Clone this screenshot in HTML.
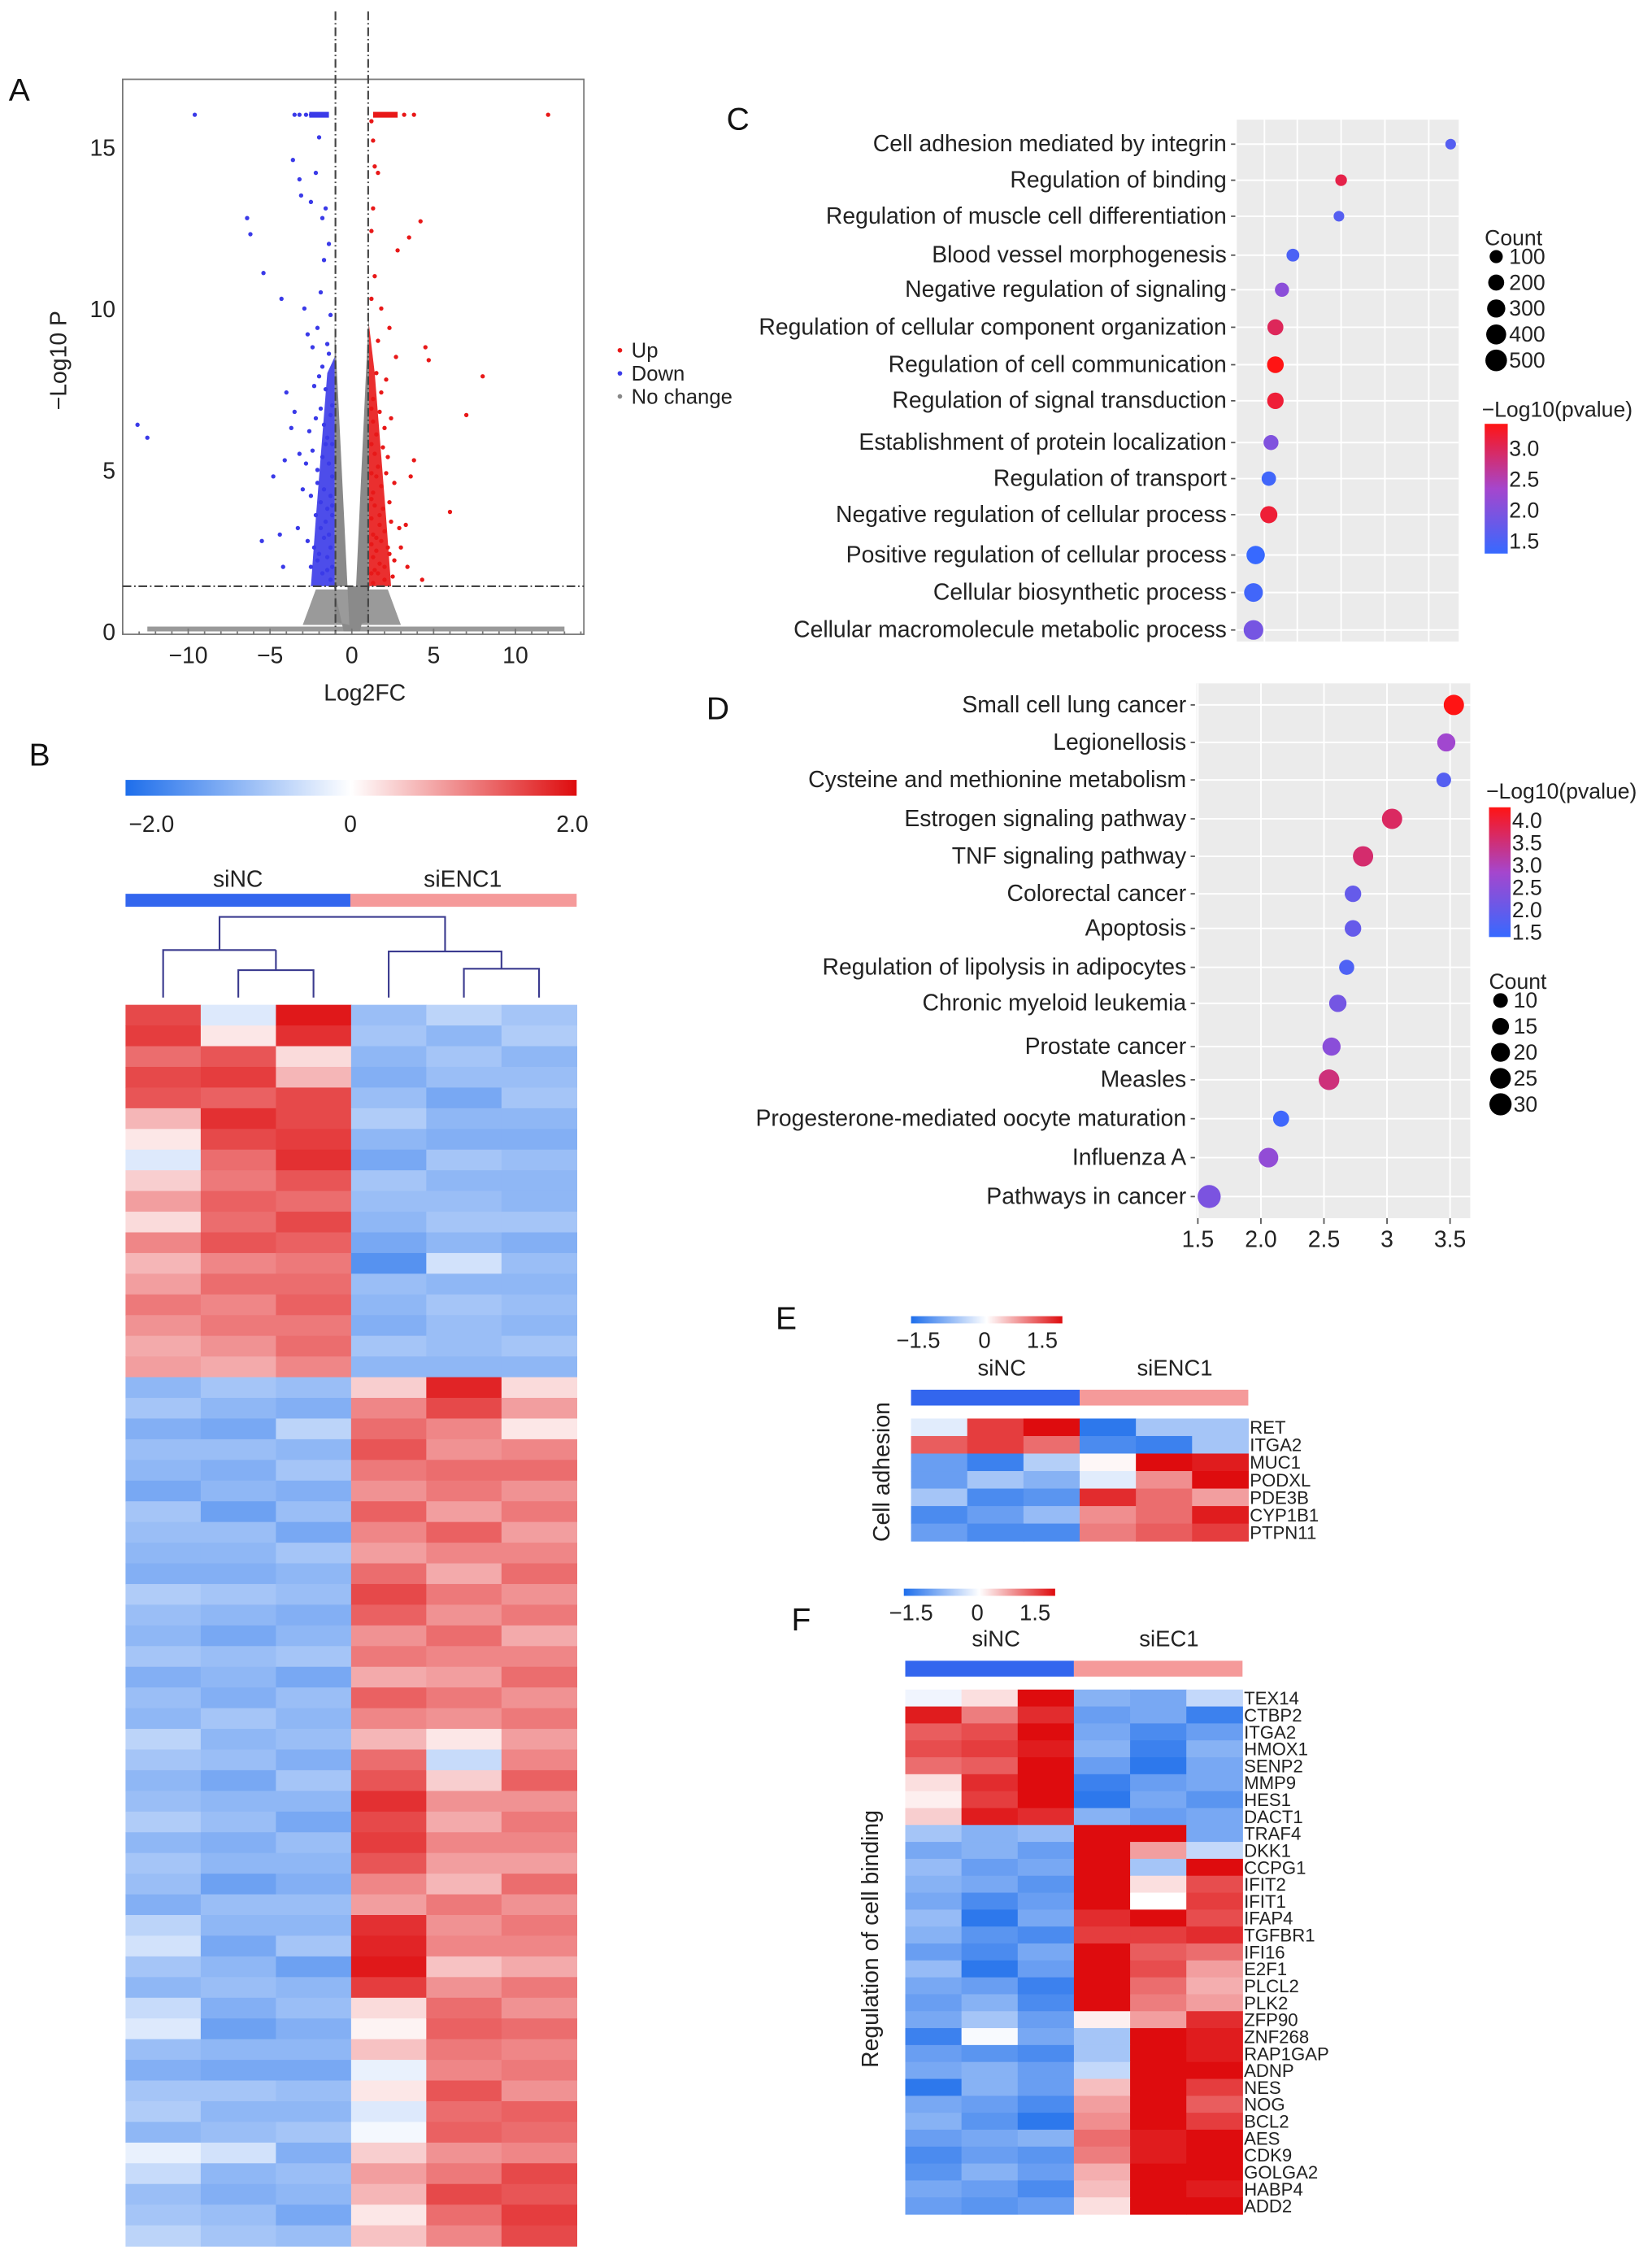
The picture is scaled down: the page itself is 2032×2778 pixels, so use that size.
<!DOCTYPE html>
<html><head><meta charset="utf-8"><style>
html,body{margin:0;padding:0;background:#fff;}
svg{display:block;font-family:"Liberation Sans",Arial,sans-serif;}
</style></head><body>
<svg id="fig" width="2032" height="2778" viewBox="0 0 1146 1567" xmlns="http://www.w3.org/2000/svg">
<rect width="1146" height="1567" fill="#fff"/>
<g font-size="22" fill="#111">
<text x="6" y="70">A</text>
<text x="20" y="531">B</text>
<text x="504" y="90">C</text>
<text x="490" y="499">D</text>
<text x="538" y="922">E</text>
<text x="549" y="1131">F</text>
</g>
<g id="A"></g>
<g id="B"></g>
<g id="C"></g>
<g id="D"></g>
<g id="E"></g>
<g id="F"></g>
</svg>
<script>
// ---------- Panel A data ----------
const downLfc=[-9.6,-3.5,-3.2,-2.8,-2.5,-2.2,-2.0,-6.4,-6.2,-5.4,-4.3,-3.6,-3.2,-3.1,-2.5,-2.2,-2.0,-1.8,-1.6,-1.4,-13.1,-12.5,-4.1,-4.8,-3.7,-4.0,-3.5,-3.2,-5.5,-4.2,-4.4,-2.9,-2.7,-2.4,-2.1,-1.9,-1.7,-1.5,-1.3,-2.3,-2.0,-1.8,-1.6,-1.4,-1.2,-2.6,-2.2,-1.9,-1.7,-1.5,-1.3,-1.2,-2.8,-2.4,-2.1,-1.8,-1.6,-1.4,-1.2,-3.0,-2.5,-2.1,-1.9,-1.7,-1.5,-1.3,-1.2,-2.2,-1.9,-1.6,-1.4,-1.2,-3.3,-2.7,-2.3,-2.0,-1.7,-1.5,-1.3,-1.2,-2.5,-2.1,-1.8,-1.5,-1.3];
const downP=[16,16,16,16,16,16,16,12.8,12.3,11.1,10.3,14.6,14.0,13.5,13.3,14.2,15.3,12.8,13.1,12.0,6.4,6.0,5.3,4.8,6.3,7.4,6.8,5.5,2.8,2.0,3.0,10.0,9.2,8.8,9.4,10.5,11.5,8.9,9.8,7.6,7.9,8.2,7.5,8.6,7.0,6.2,6.6,6.9,6.4,6.0,6.7,5.8,5.2,5.6,5.0,5.4,5.8,5.2,4.8,4.4,4.2,4.6,4.0,4.4,3.8,4.2,3.9,3.6,3.2,3.4,3.0,3.6,3.2,2.8,2.6,2.4,2.9,2.3,2.6,2.0,2.0,2.2,1.8,1.9,1.6];
const upLfc=[1.5,2.0,2.5,3.2,3.8,12.0,1.2,1.3,4.2,3.5,2.8,1.4,1.6,1.3,1.2,4.5,4.7,8.0,7.0,6.0,3.8,3.6,3.3,1.8,2.3,2.7,1.6,1.4,1.2,2.1,1.8,1.5,1.3,1.2,2.4,2.0,1.7,1.5,1.3,1.2,2.2,1.9,1.6,1.4,1.2,2.6,2.1,1.8,1.5,1.3,1.2,2.3,1.9,1.7,1.4,1.2,2.9,2.4,2.0,1.7,1.5,1.3,1.2,2.2,1.8,1.5,1.3,3.0,2.6,2.3,2.0,1.7,1.4,1.2,2.5,2.0,1.6,1.3,4.3,3.4];
const upP=[16,16,16,16,16,16,15.8,15.2,12.7,12.2,11.8,14.4,14.2,13.1,12.4,8.8,8.4,7.9,6.7,3.7,5.3,4.8,3.3,10.0,9.4,8.5,9.0,11.0,10.3,7.8,7.4,8.0,7.2,6.9,6.6,6.3,6.8,6.1,6.5,5.8,5.4,5.7,5.1,5.5,4.9,4.6,4.9,4.5,4.8,4.3,4.1,4.0,3.8,3.6,3.9,3.5,3.2,3.4,3.1,3.3,2.9,3.0,2.7,2.6,2.8,2.5,2.3,2.6,2.2,2.4,2.0,2.1,1.9,1.8,1.7,1.6,1.8,1.5,1.6,2.0];
const aXTicks=[-10,-5,0,5,10];
const aYTicks=[0,5,10,15];
// ---------- Panel B data (6 columns x 60 rows) ----------
const bCol1=[1.5,1.6,1.2,1.5,1.4,0.6,0.2,-0.3,0.4,0.8,0.3,1.0,0.6,0.8,1.1,0.9,0.7,0.8,-1.0,-0.8,-1.1,-0.9,-1.0,-1.2,-0.8,-0.9,-1.0,-1.1,-0.7,-0.9,-1.0,-0.8,-1.1,-0.9,-1.0,-0.6,-0.8,-1.0,-0.9,-0.7,-1.0,-0.8,-0.9,-1.1,-0.6,-0.4,-0.8,-1.0,-0.5,-0.3,-0.9,-1.1,-0.8,-0.7,-1.0,-0.2,-0.5,-0.9,-0.8,-0.6];
const bCol2=[-0.3,0.2,1.4,1.6,1.3,1.7,1.5,1.2,1.1,1.3,1.2,1.4,1.0,1.2,1.0,1.1,0.9,0.7,-0.8,-1.0,-1.2,-0.9,-1.1,-1.0,-1.3,-0.9,-1.0,-1.1,-0.8,-1.0,-1.2,-0.9,-1.0,-1.1,-0.8,-1.0,-0.9,-1.2,-1.0,-0.9,-1.1,-1.0,-1.3,-0.9,-1.0,-1.2,-1.0,-0.9,-1.1,-1.3,-1.0,-1.2,-0.8,-1.0,-0.9,-0.4,-1.0,-1.1,-0.9,-0.8];
const bCol3=[1.9,1.7,0.3,0.6,1.5,1.5,1.6,1.7,1.4,1.2,1.5,1.3,1.1,1.2,1.3,1.1,1.2,1.0,-0.9,-1.1,-0.6,-1.0,-0.8,-1.1,-0.9,-1.2,-0.8,-1.0,-0.9,-1.1,-1.0,-0.8,-1.2,-0.9,-1.0,-0.9,-1.1,-0.8,-1.0,-1.2,-0.9,-1.0,-1.1,-0.9,-1.0,-0.8,-1.3,-1.0,-0.9,-1.1,-1.0,-1.2,-0.9,-1.0,-0.8,-1.1,-0.9,-1.0,-1.2,-0.9];
const bCol4=[-0.9,-0.8,-1.0,-1.1,-0.9,-0.7,-1.0,-1.2,-0.8,-0.9,-1.0,-1.2,-1.5,-0.9,-1.0,-1.1,-0.8,-1.0,0.4,1.0,1.2,1.4,1.1,0.9,1.3,1.0,0.8,1.2,1.5,1.3,0.9,1.1,0.7,1.3,1.0,0.6,1.2,1.4,1.7,1.5,1.6,1.4,1.0,0.8,1.7,1.8,1.9,1.6,0.3,0.1,0.5,-0.2,0.2,-0.3,-0.1,0.4,0.8,0.6,0.2,0.5];
const bCol5=[-0.6,-1.0,-0.8,-0.9,-1.2,-1.0,-1.1,-0.8,-1.0,-0.9,-0.8,-1.0,-0.4,-1.0,-0.8,-0.9,-0.9,-1.0,1.8,1.5,1.0,0.9,1.2,1.1,0.8,1.3,1.0,0.7,1.1,0.9,1.2,1.0,0.8,1.1,0.9,0.2,-0.5,0.4,0.9,0.7,1.0,0.8,0.6,1.1,0.9,1.0,0.5,0.9,1.2,1.3,1.1,1.0,1.4,1.2,1.3,0.9,1.1,1.5,1.2,1.0];
const bCol6=[-0.8,-0.7,-1.0,-0.9,-0.8,-1.0,-1.1,-0.9,-1.0,-1.0,-0.8,-1.1,-0.9,-1.0,-0.9,-1.0,-0.8,-1.0,0.3,0.8,0.2,1.0,1.2,0.9,1.1,0.8,1.0,1.2,0.9,1.1,0.7,1.0,1.2,0.9,1.1,0.8,1.0,1.3,0.9,1.1,1.0,0.8,1.2,0.9,1.1,1.0,0.7,1.1,0.9,1.2,1.0,1.1,0.9,1.3,1.2,1.0,1.5,1.4,1.6,1.5];
// ---------- Panel C data ----------
const cTerms=["Cell adhesion mediated by integrin","Regulation of binding","Regulation of muscle cell differentiation","Blood vessel morphogenesis","Negative regulation of signaling","Regulation of cellular component organization","Regulation of cell communication","Regulation of signal transduction","Establishment of protein localization","Regulation of transport","Negative regulation of cellular process","Positive regulation of cellular process","Cellular biosynthetic process","Cellular macromolecule metabolic process"];
const cX=[9.5,4.5,4.4,2.3,1.8,1.5,1.5,1.5,1.3,1.2,1.2,0.6,0.5,0.5];
const cCount=[40,60,40,90,130,200,230,220,160,140,250,310,330,380];
const cLogP=[1.6,3.1,1.6,1.5,2.1,3.0,3.4,3.2,2.0,1.4,3.2,1.3,1.4,1.9];
const cSizeTicks=[100,200,300,400,500];
const cColorTicks=[1.5,2.0,2.5,3.0];
// ---------- Panel D data ----------
const dTerms=["Small cell lung cancer","Legionellosis","Cysteine and methionine metabolism","Estrogen signaling pathway","TNF signaling pathway","Colorectal cancer","Apoptosis","Regulation of lipolysis in adipocytes","Chronic myeloid leukemia","Prostate cancer","Measles","Progesterone-mediated oocyte maturation","Influenza A","Pathways in cancer"];
const dX=[3.53,3.47,3.45,3.04,2.81,2.73,2.73,2.68,2.61,2.56,2.54,2.16,2.06,1.59];
const dCount=[24,18,10,24,24,14,14,11,16,18,25,13,22,33];
const dLogP=[4.3,2.8,1.8,3.7,3.6,2.0,2.0,1.7,2.2,2.5,3.5,1.5,2.6,2.3];
const dXTicks=[1.5,2.0,2.5,3,3.5];
const dXTickLabels=["1.5","2.0","2.5","3","3.5"];
const dSizeTicks=[10,15,20,25,30];
const dColorTicks=[1.5,2.0,2.5,3.0,3.5,4.0];
// ---------- Panel E data ----------
const eGenes=["RET","ITGA2","MUC1","PODXL","PDE3B","CYP1B1","PTPN11"];
const eVals=[[-0.2,1.2,1.6,-1.4,-0.6,-0.6],[1.0,1.2,0.9,-1.2,-1.3,-0.6],[-1.0,-1.3,-0.5,0.05,1.5,1.4],[-1.0,-0.6,-0.8,-0.2,0.7,1.7],[-0.6,-1.2,-1.1,1.3,0.9,0.6],[-1.2,-1.0,-0.7,0.7,0.9,1.4],[-1.0,-1.2,-1.2,0.8,1.0,1.2]];
// ---------- Panel F data ----------
const fGenes=["TEX14","CTBP2","ITGA2","HMOX1","SENP2","MMP9","HES1","DACT1","TRAF4","DKK1","CCPG1","IFIT2","IFIT1","IFAP4","TGFBR1","IFI16","E2F1","PLCL2","PLK2","ZFP90","ZNF268","RAP1GAP","ADNP","NES","NOG","BCL2","AES","CDK9","GOLGA2","HABP4","ADD2"];
const fVals=[[-0.1,0.2,1.6,-0.8,-0.9,-0.4],[1.4,0.8,1.3,-1.0,-0.9,-1.3],[1.0,1.1,1.5,-0.9,-1.2,-1.0],[1.1,1.2,1.4,-0.8,-1.3,-0.8],[0.9,1.0,1.5,-1.0,-1.4,-0.9],[0.2,1.3,1.6,-1.3,-1.0,-0.9],[0.1,1.2,1.5,-1.4,-0.9,-1.1],[0.3,1.4,1.3,-0.8,-1.0,-0.9],[-0.6,-0.8,-0.7,1.6,1.7,-0.9],[-0.9,-0.8,-1.0,1.7,0.6,-0.4],[-0.7,-1.0,-0.9,1.6,-0.6,1.6],[-0.8,-0.9,-1.1,1.7,0.2,1.1],[-0.9,-1.2,-1.0,1.7,0.0,1.2],[-0.7,-1.4,-0.9,1.3,1.5,1.1],[-0.8,-1.1,-1.2,1.2,1.2,1.3],[-1.0,-1.2,-0.9,1.5,1.0,0.9],[-0.7,-1.4,-1.0,1.5,1.1,0.6],[-0.9,-1.0,-1.3,1.7,0.9,0.5],[-1.0,-0.8,-1.2,1.6,0.8,0.6],[-0.9,-0.6,-1.0,0.1,0.6,1.3],[-1.3,-0.05,-0.9,-0.6,1.6,1.4],[-1.0,-1.1,-1.2,-0.6,1.7,1.4],[-0.9,-0.8,-1.0,-0.4,1.6,1.5],[-1.4,-0.8,-1.0,0.4,1.5,1.2],[-0.9,-1.0,-1.2,0.6,1.7,1.0],[-0.8,-1.1,-1.4,0.7,1.6,1.2],[-1.0,-0.9,-0.8,0.9,1.4,1.5],[-1.2,-1.0,-1.1,0.8,1.4,1.6],[-1.1,-0.8,-1.0,0.5,1.5,1.6],[-0.9,-1.0,-1.2,0.4,1.6,1.4],[-1.0,-1.1,-1.0,0.2,1.5,1.6]];

// ---------- helpers ----------
const NS="http://www.w3.org/2000/svg";
function mk(parent,tag,attrs,text){const e=document.createElementNS(NS,tag);for(const k in attrs)e.setAttribute(k,attrs[k]);if(text!==undefined)e.textContent=text;parent.appendChild(e);return e;}
function lerp(a,b,t){return a+(b-a)*t;}
function mix(c1,c2,t){return `rgb(${Math.round(lerp(c1[0],c2[0],t))},${Math.round(lerp(c1[1],c2[1],t))},${Math.round(lerp(c1[2],c2[2],t))})`;}
function heatColor(v,lim){const t=Math.max(-1,Math.min(1,v/lim));const blue=[30,110,235],white=[255,255,255],red=[222,12,14];return t<0?mix(white,blue,-t):mix(white,red,t);}
function dotColor(v,lo,hi){const t=Math.max(0,Math.min(1,(v-lo)/(hi-lo)));const b=[55,105,255],p=[165,70,205],r=[255,20,20];return t<0.5?mix(b,p,t*2):mix(p,r,(t-0.5)*2);}

// ---------- Panel A ----------
(function(){
const g=document.getElementById('A');
const x0=85,x1=405,y0=55,y1=440;
const xs=v=>244+v*11.35, ys=v=>438-v*22.4;
let r=mk(g,'rect',{x:x0,y:y0,width:x1-x0,height:y1-y0,fill:'none',stroke:'#777','stroke-width':1});

// baseline strip
let bs=mk(g,'rect',{x:xs(-12.5),y:ys(0.15),width:xs(13)-xs(-12.5),height:ys(0)-ys(0.15),fill:'#999'});

// bottom cloud below threshold
let p2=mk(g,'path',{d:`M${xs(-3)},${ys(0.2)} L${xs(-2.2)},${ys(1.3)} L${xs(2.2)},${ys(1.3)} L${xs(3)},${ys(0.2)} Z`,fill:'#9a9a9a'});

// V cloud
let p=mk(g,'path',{d:`M${xs(-1.05)},${ys(9.5)} L${xs(-1.05)},${ys(0.3)} L${xs(-0.15)},${ys(0.2)} Z M${xs(1.05)},${ys(10)} L${xs(1.05)},${ys(0.3)} L${xs(0.15)},${ys(0.2)} Z M${xs(-1.1)},${ys(1.4)} L${xs(1.1)},${ys(1.4)} L${xs(0.5)},${ys(0)} L${xs(-0.5)},${ys(0)} Z`,fill:'#8a8a8a'});

// dense bands
let bb=mk(g,'path',{d:`M${xs(-2.5)},${ys(1.4)} L${xs(-1.05)},${ys(1.4)} L${xs(-1.05)},${ys(8.5)} L${xs(-1.5)},${ys(8)} L${xs(-2.2)},${ys(3.5)} Z`,fill:'#3a3ae8',opacity:0.9});

let rb=mk(g,'path',{d:`M${xs(2.4)},${ys(1.4)} L${xs(1.05)},${ys(1.4)} L${xs(1.05)},${ys(9.5)} L${xs(1.4)},${ys(8)} L${xs(2.1)},${ys(3.5)} Z`,fill:'#e81818',opacity:0.9});

let bt=mk(g,'rect',{x:xs(-2.6),y:ys(16)-2,width:xs(-1.4)-xs(-2.6),height:4,fill:'#3a3ae8'});

let rt=mk(g,'rect',{x:xs(1.3),y:ys(16)-2,width:xs(2.8)-xs(1.3),height:4,fill:'#e81818'});

downLfc.forEach((v,i)=>{const c=mk(g,'circle',{cx:xs(v),cy:ys(downP[i]),r:1.5,fill:'#3a3ae8'});
});
upLfc.forEach((v,i)=>{const c=mk(g,'circle',{cx:xs(v),cy:ys(upP[i]),r:1.5,fill:'#e81818'});
});
// thresholds
[-1,1].forEach(v=>{const l=mk(g,'line',{x1:xs(v),y1:8,x2:xs(v),y2:y1,stroke:'#444','stroke-width':1.2,'stroke-dasharray':'6,2,1,2'});
});
let h=mk(g,'line',{x1:x0,y1:ys(1.4),x2:x1,y2:ys(1.4),stroke:'#444','stroke-width':1.2,'stroke-dasharray':'6,2,1,2'});

// ticks
aXTicks.forEach(v=>{const t=mk(g,'text',{x:xs(v),y:460,'font-size':16,'text-anchor':'middle',fill:'#222'},v<0?'\u2212'+(-v):String(v));
});
for(let v=-14;v<=14;v++){mk(g,'line',{x1:xs(v),y1:y1,x2:xs(v),y2:y1-(v%5===0?4:2),stroke:'#777'});}
aYTicks.forEach(v=>{const t=mk(g,'text',{x:80,y:ys(v)+6,'font-size':16,'text-anchor':'end',fill:'#222'},String(v));
});
let xt=mk(g,'text',{x:253,y:486,'font-size':16,'text-anchor':'middle',fill:'#222'},'Log2FC');

let yt=mk(g,'text',{x:0,y:0,'font-size':16,'text-anchor':'middle',fill:'#222',transform:'translate(46,250) rotate(-90)'},'\u2212Log10 P');

const leg=[['Up','#e81818'],['Down','#3a3ae8'],['No change','#888']];
leg.forEach((l,i)=>{const c=mk(g,'circle',{cx:430,cy:243+i*16,r:1.6,fill:l[1]});

const t=mk(g,'text',{x:438,y:248+i*16,'font-size':14.5,fill:'#222'},l[0]);
});
})();

// ---------- Panel B ----------
(function(){
const g=document.getElementById('B');
const defs=mk(g,'defs',{});
const lg=mk(defs,'linearGradient',{id:'gB',x1:0,x2:1,y1:0,y2:0});
[[0,heatColor(-2,2)],[0.5,'#fff'],[1,heatColor(2,2)]].forEach(s=>mk(lg,'stop',{offset:s[0],'stop-color':s[1]}));
let cb=mk(g,'rect',{x:87,y:541,width:313,height:11,fill:'url(#gB)'});

[['\u22122.0',105],['0',243],['2.0',397]].forEach(l=>{const t=mk(g,'text',{x:l[1],y:577,'font-size':16,'text-anchor':'middle',fill:'#222'},l[0]);
});
let s1=mk(g,'text',{x:165,y:615,'font-size':16,'text-anchor':'middle',fill:'#222'},'siNC');

let s2=mk(g,'text',{x:321,y:615,'font-size':16,'text-anchor':'middle',fill:'#222'},'siENC1');

let g1=mk(g,'rect',{x:87,y:620,width:156,height:9,fill:'#3366ee'});

let g2=mk(g,'rect',{x:243,y:620,width:157,height:9,fill:'#f59a9a'});

const cw=313/6, cx=i=>87+cw*(i+0.5);
const dp=`M${cx(0)},692 V659 H${(cx(1)+cx(2))/2} M${cx(1)},692 V673 H${cx(2)} V692 M${(cx(1)+cx(2))/2},673 V659 M${(cx(0)+(cx(1)+cx(2))/2)/2},659 V636 H${(cx(3)+(cx(4)+cx(5))/2)/2} V660 M${cx(3)},692 V660 H${(cx(4)+cx(5))/2} V672 M${cx(4)},692 V672 H${cx(5)} V692`;
let den=mk(g,'path',{d:dp,fill:'none',stroke:'#3b3b8f','stroke-width':1.2});

const cols=[bCol1,bCol2,bCol3,bCol4,bCol5,bCol6];
const top=697,bottom=1558,rh=(bottom-top)/bCol1.length;
cols.forEach((col,ci)=>col.forEach((v,ri)=>{const r=mk(g,'rect',{x:87+ci*cw,y:top+ri*rh,width:cw+0.4,height:rh+0.4,fill:heatColor(v,2)});
}));
})();

// ---------- dot plot builder ----------
function dotPlot(gid,o){
const g=document.getElementById(gid);
let bg=mk(g,'rect',{x:o.x0,y:o.y0,width:o.x1-o.x0,height:o.y1-o.y0,fill:'#ebebeb'});

o.gridX.forEach(v=>{mk(g,'line',{x1:o.xs(v),y1:o.y0,x2:o.xs(v),y2:o.y1,stroke:'#fff','stroke-width':1.1});});
o.terms.forEach((t,i)=>{const y=o.rowY(i);
mk(g,'line',{x1:o.x0,y1:y,x2:o.x1,y2:y,stroke:'#fff','stroke-width':1.1});
mk(g,'line',{x1:o.x0-4,y1:y,x2:o.x0-1,y2:y,stroke:'#555'});
const tx=mk(g,'text',{x:o.x0-7,y:y+5,'font-size':16,'text-anchor':'end',fill:'#222'},t);

const c=mk(g,'circle',{cx:o.xs(o.xv[i]),cy:y,r:o.rs(o.count[i]),fill:dotColor(o.lp[i],o.cLo,o.cHi)});
});
}
function colorLegend(g,id,x,y,w,h,lo,hi,ticks,title,ty){
const defs=mk(g,'defs',{});const lg=mk(defs,'linearGradient',{id:id,x1:0,x2:0,y1:1,y2:0});
for(let k=0;k<=10;k++){mk(lg,'stop',{offset:k/10,'stop-color':dotColor(lo+(hi-lo)*k/10,lo,hi)});}
let r=mk(g,'rect',{x:x,y:y,width:w,height:h,fill:`url(#${id})`});

let t=mk(g,'text',{x:x-2,y:ty,'font-size':15,fill:'#222'},title);

ticks.forEach(v=>{const yy=y+h-(v-lo)/(hi-lo)*h;const l=mk(g,'text',{x:x+w+1,y:yy+5,'font-size':15,fill:'#222'},v.toFixed(1));
});
}
function sizeLegend(g,x,y,step,ticks,rs,title){
let t=mk(g,'text',{x:x-8,y:y-8,'font-size':15,fill:'#222'},title);

ticks.forEach((v,i)=>{const c=mk(g,'circle',{cx:x,cy:y+i*step,r:rs(v),fill:'#000'});

const l=mk(g,'text',{x:x+9,y:y+i*step+5,'font-size':15,fill:'#222'},String(v));
});
}
// ---------- Panel C ----------
(function(){
const rows=[100,125,150,177,201,227,253,278,307,332,357,385,411,437];
dotPlot('C',{x0:858,x1:1012,y0:83,y1:445,terms:cTerms,xv:cX,count:cCount,lp:cLogP,
xs:v=>862+v*15.2,rs:v=>2.2+Math.sqrt(v/500)*5.3,rowY:i=>rows[i],gridX:[1,2.5,4.5,6.5,8.5,10],cLo:1.3,cHi:3.4});
const g=document.getElementById('C');
sizeLegend(g,1038,178,18,cSizeTicks,v=>2.2+Math.sqrt(v/500)*5.3,'Count');
colorLegend(g,'gC',1030,294,16,90,1.3,3.4,cColorTicks,'\u2212Log10(pvalue)',289);
})();
// ---------- Panel D ----------
(function(){
const rows=[489,515,541,568,594,620,644,671,696,726,749,776,803,830];
const xs=v=>831+(v-1.5)*87.5;
dotPlot('D',{x0:830,x1:1020,y0:474,y1:845,terms:dTerms,xv:dX,count:dCount,lp:dLogP,
xs:xs,rs:v=>1.5+Math.sqrt(v/33)*6.5,rowY:i=>rows[i],gridX:dXTicks,cLo:1.4,cHi:4.3});
const g=document.getElementById('D');
dXTicks.forEach((v,i)=>{mk(g,'line',{x1:xs(v),y1:845,x2:xs(v),y2:849,stroke:'#555'});
const t=mk(g,'text',{x:xs(v),y:865,'font-size':16,'text-anchor':'middle',fill:'#222'},dXTickLabels[i]);
});
colorLegend(g,'gD',1033,560,15,90,1.4,4.3,dColorTicks,'\u2212Log10(pvalue)',554);
sizeLegend(g,1041,694,18,dSizeTicks,v=>1.5+Math.sqrt(v/33)*6.5,'Count');
})();
// ---------- small heatmaps ----------
function smallHeat(gid,o){
const g=document.getElementById(gid);
const defs=mk(g,'defs',{});const lg=mk(defs,'linearGradient',{id:'g'+gid,x1:0,x2:1,y1:0,y2:0});
[[0,heatColor(-1.5,1.5)],[0.5,'#fff'],[1,heatColor(1.5,1.5)]].forEach(s=>mk(lg,'stop',{offset:s[0],'stop-color':s[1]}));
let cb=mk(g,'rect',{x:o.cbx,y:o.cby,width:105,height:5,fill:`url(#g${gid})`});

[['\u22121.5',o.cbx+5],['0',o.cbx+51],['1.5',o.cbx+91]].forEach(l=>{const t=mk(g,'text',{x:l[1],y:o.cby+22,'font-size':15.5,'text-anchor':'middle',fill:'#222'},l[0]);
});
let a=mk(g,'text',{x:o.x0+63,y:o.gy-10,'font-size':15.5,'text-anchor':'middle',fill:'#222'},'siNC');

let b=mk(g,'text',{x:o.x0+183,y:o.gy-10,'font-size':15.5,'text-anchor':'middle',fill:'#222'},o.g2);

const w=o.w/6;
let r1=mk(g,'rect',{x:o.x0,y:o.gy,width:w*3,height:11,fill:'#3366ee'});

let r2=mk(g,'rect',{x:o.x0+w*3,y:o.gy,width:w*3,height:11,fill:'#f59a9a'});

const rh=o.h/o.genes.length;
o.vals.forEach((row,ri)=>row.forEach((v,ci)=>{const c=mk(g,'rect',{x:o.x0+ci*w,y:o.y0+ri*rh,width:w+0.3,height:rh+0.3,fill:heatColor(v,1.5)});
}));
o.genes.forEach((n,i)=>{const t=mk(g,'text',{x:o.x0+o.w+1,y:o.y0+(i+0.5)*rh+4.5,'font-size':12.5,fill:'#222'},n);
});
let yl=mk(g,'text',{x:0,y:0,'font-size':16,'text-anchor':'middle',fill:'#222',transform:`translate(${o.ylx},${o.yly}) rotate(-90)`},o.ylab);

}
smallHeat('E',{cbx:632,cby:913,x0:632,w:234,gy:964,y0:984,h:85,genes:eGenes,vals:eVals,g2:'siENC1',ylab:'Cell adhesion',ylx:617,yly:1021});
smallHeat('F',{cbx:627,cby:1102,x0:628,w:234,gy:1152,y0:1172,h:364,genes:fGenes,vals:fVals,g2:'siEC1',ylab:'Regulation of cell binding',ylx:609,yly:1345});
</script>
</body></html>
